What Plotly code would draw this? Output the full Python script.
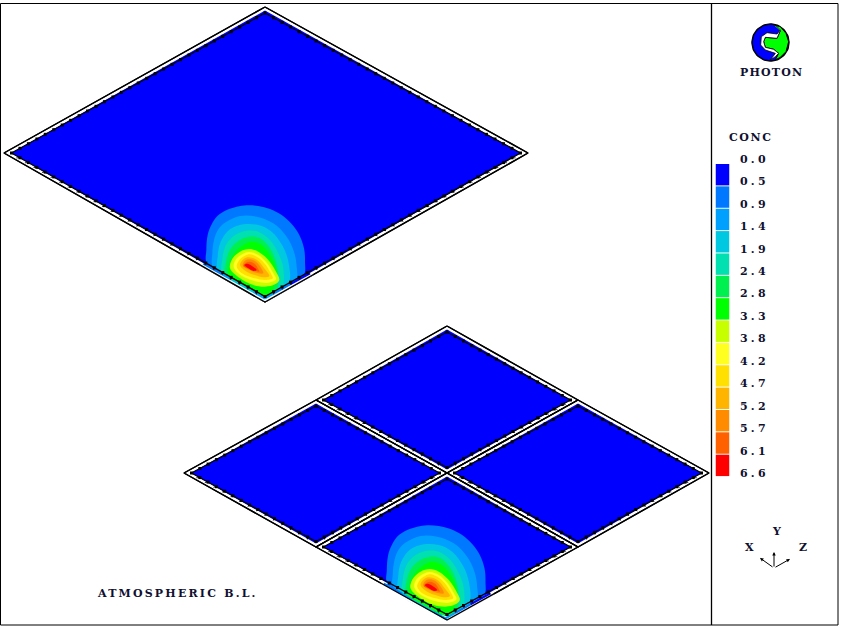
import numpy as np
import plotly.graph_objects as go

# legend
legend_values = ["0.0","0.5","0.9","1.4","1.9","2.4","2.8","3.3","3.8","4.2","4.7","5.2","5.7","6.1","6.6"]
band_colors = ["#0000ff","#0078ff","#00a0ff","#00c8e0","#00e0b0","#00f050","#00ff00","#c8ff00",
               "#ffff20","#ffe000","#ffb400","#ff8c00","#ff6000","#ff0000"]

# diamonds (top, left, right, bottom vertices) on the picture plane
panel_single = [((265,7),(4,153),(528,153),(265,302))]
panels_quarter = [
    ((447,326),(316,400),(578,400),(447,473)),
    ((316,400),(184,473),(447,473),(316,547)),
    ((578,400),(447,473),(709,473),(578,547)),
    ((447,473),(316,547),(578,547),(447,620)),
]

# concentration contour outlines, outermost first (plume-local coordinates, 3 units = 1 px)
plume_levels = [
 ("#0078ff",[(52,223),(49,180),(53,135),(64,105),(82,78),(110,60),(140,50),(170,46),(205,48),(240,57),(275,75),(305,102),(328,135),(342,175),(345,215),(340,258),(225,316)]),
 ("#00a0ff",[(70,234),(67,190),(72,150),(85,118),(108,96),(150,78),(200,80),(250,100),(290,140),(312,185),(320,230),(318,270),(225,316)]),
 ("#00c8e0",[(85,243),(83,200),(92,155),(120,118),(160,103),(205,105),(245,125),(278,168),(296,220),(295,282),(225,316)]),
 ("#00e0b0",[(98,250),(97,208),(108,165),(135,135),(170,122),(205,125),(240,150),(265,190),(280,235),(275,295),(225,316)]),
 ("#00f050",[(108,257),(108,215),(123,175),(150,150),(180,140),(210,145),(240,175),(258,215),(265,260),(258,305),(225,316)]),
 ("#00ff00",[(118,262),(118,225),(133,190),(160,165),(185,155),(215,165),(240,195),(258,235),(258,270),(240,312),(225,316)]),
 ("#c8ff00",[(120,235),(128,205),(150,185),(178,177),(205,185),(235,210),(258,245),(268,270),(255,283),(225,290),(190,285),(150,265)]),
 ("#ffff20",[(131,230),(138,208),(158,192),(178,186),(205,195),(230,218),(250,250),(258,268),(235,278),(205,276),(170,265),(145,250)]),
 ("#ffe000",[(140,228),(150,208),(165,197),(180,193),(205,203),(225,222),(245,255),(248,265),(225,270),(195,265),(165,255),(148,243)]),
 ("#ffb400",[(150,225),(158,210),(172,202),(188,204),(205,213),(225,238),(238,258),(220,262),(195,255),(170,245)]),
 ("#ff8c00",[(158,225),(165,212),(178,208),(195,213),(212,232),(220,250),(205,250),(185,243),(168,235)]),
 ("#ff6000",[(160,228),(168,218),(180,215),(195,222),(205,238),(208,245),(190,240),(172,235)]),
 ("#ff0000",[(163,225),(172,221),(185,227),(200,240),(190,243),(175,235)]),
]
# colours in the thin strip below the plume, along the two lower edges
strip_left = [(40,95,"#0078ff"),(95,125,"#00a0ff"),(125,190,"#00c8e0"),(190,225,"#00a0ff")]
strip_right = [(225,255,"#00a0ff"),(255,300,"#0078ff"),(300,360,"#0000ff")]
plume_origins = [(190,190),(370.5,510)]

fig = go.Figure()

def path(xs, ys, **kw):
    fig.add_trace(go.Scatter(x=xs, y=ys, mode=kw.pop("mode","lines"), hoverinfo="skip", showlegend=False, **kw))

def closed(T,L,R,B):
    return [T[0],R[0],B[0],L[0],T[0]],[T[1],R[1],B[1],L[1],T[1]]

def inset(p, t, s, b):
    T,L,R,B = p
    return (T[0],T[1]+t),(L[0]+s,L[1]),(R[0]-s,R[1]),(B[0],B[1]-b)

def base(p):
    x,y = closed(*p)
    path(x,y,fill="toself",fillcolor="white",line=dict(color="black",width=1.4))
    x,y = closed(*inset(p,3.5,7,3.5))
    path(x,y,fill="toself",fillcolor="#0000ff",line=dict(width=0),mode="lines")

def frame(p):
    x,y = closed(*p)
    path(x,y,line=dict(color="black",width=1.4))
    T,L,R,B = inset(p,6,7.5,5.5)
    x,y = closed(T,L,R,B)
    path(x,y,line=dict(color="black",width=1.4))
    # node dots on the inner line
    size = abs(R[0]-L[0])
    n = int(round(size/17))
    dx,dy=[],[]
    for a,b in ((T,R),(R,B),(B,L),(L,T)):
        for f in np.linspace(0,1,n,endpoint=False):
            dx.append(a[0]+(b[0]-a[0])*f); dy.append(a[1]+(b[1]-a[1])*f)
    path(dx,dy,mode="markers",marker=dict(color="black",size=3,symbol="square"))
    # short cross ticks in the lower band
    oT,oL,oR,oB = p
    tx,ty=[],[]
    for a,b,c,d in ((L,B,oL,oB),(B,R,oB,oR)):
        for f in np.linspace(0,1,n,endpoint=False)[1:]:
            x0=a[0]+(b[0]-a[0])*f; y0=a[1]+(b[1]-a[1])*f
            x1=c[0]+(d[0]-c[0])*f; y1=c[1]+(d[1]-c[1])*f
            tx+=[x0,(x0+x1)/2,None]; ty+=[y0,(y0+y1)/2,None]
    path(tx,ty,line=dict(color="black",width=0.8))

def plume(o):
    ox,oy=o
    for col,pts in plume_levels:
        xs=[ox+q[0]/3 for q in pts]; ys=[oy+q[1]/3 for q in pts]
        xs.append(xs[0]); ys.append(ys[0])
        path(xs,ys,fill="toself",fillcolor=col,line=dict(width=0,shape="spline",smoothing=1.0))
    edge_l=lambda z:(194+z*.5647)/3
    edge_r=lambda z:(321-(z-225)*.56)/3
    # white band cover, then the coloured strip
    for edge,z0,z1 in ((edge_l,30,225),(edge_r,225,370)):
        path([ox+z0/3,ox+z1/3],[oy+edge(z0)+3.6,oy+edge(z1)+3.6],line=dict(color="white",width=3))
    for z0,z1,col in strip_left:
        path([ox+z0/3,ox+z1/3],[oy+edge_l(z0)+1.4,oy+edge_l(z1)+1.4],line=dict(color=col,width=2.2))
    for z0,z1,col in strip_right:
        path([ox+z0/3,ox+z1/3],[oy+edge_r(z0)+1.4,oy+edge_r(z1)+1.4],line=dict(color=col,width=2.2))

for p in panel_single+panels_quarter:
    base(p)
for o in plume_origins:
    plume(o)
for p in panel_single+panels_quarter:
    frame(p)

# legend swatches
fig.add_trace(go.Bar(x=[722.5]*14, y=[21.4]*14, base=[164+22.36*i for i in range(14)], width=13.5,
                     marker=dict(color=band_colors,line=dict(width=0)), hoverinfo="skip", showlegend=False))

# logo
tt=np.linspace(0,2*np.pi,80)
path(770.5+18.5*np.cos(tt),42.5+18.5*np.sin(tt),fill="toself",fillcolor="#0000ff",line=dict(color="black",width=1.5))
logo_green=[(185,45),(205,50),(222,70),(230,95),(222,125),(205,142),(190,150),(200,130),(185,118),(160,112),(155,95),(160,82),(195,85),(205,62)]
logo_white=[(190,45),(205,60),(195,72),(165,68),(148,80),(146,105),(160,120),(190,130),(175,150),(190,140),(200,130),(185,118),(160,112),(155,95),(160,82),(195,85),(205,62)]
path([712+q[0]/3 for q in logo_green],[10+q[1]/3 for q in logo_green],fill="toself",fillcolor="#00ff00",line=dict(color="black",width=1))
path([712+q[0]/3 for q in logo_white],[10+q[1]/3 for q in logo_white],fill="toself",fillcolor="white",line=dict(color="black",width=0.8))

# texts
lx=[740]*15; ly=[160+22.45*i for i in range(15)]
tx=lx+[729,740,98,773,745,799]
ty=ly+[138,73,594,532,548,548]
tt_=legend_values+["CONC","PHOTON","ATMOSPHERIC B.L.","Y","X","Z"]
fig.add_trace(go.Scatter(x=tx,y=ty,text=tt_,mode="text",textposition="middle right",hoverinfo="skip",showlegend=False,
                         textfont=dict(family="DejaVu Serif",size=11,color="#101030",weight="bold")))

arrow_tips=[(774,552),(760,558),(790,559)]
ann=[dict(x=a,y=b,ax=774,ay=568,xref="x",yref="y",axref="x",ayref="y",text="",showarrow=True,
          arrowhead=2,arrowsize=0.7,arrowwidth=1,arrowcolor="black") for a,b in arrow_tips]

shapes=[dict(type="rect",x0=0.5,x1=838,y0=3.5,y1=625,line=dict(color="black",width=1)),
        dict(type="line",x0=711.5,x1=711.5,y0=3.5,y1=625,line=dict(color="black",width=1.3))]

fig.update_layout(width=842,height=629,margin=dict(l=0,r=0,t=0,b=0),paper_bgcolor="white",plot_bgcolor="white",
    barmode="overlay",showlegend=False,shapes=shapes,annotations=ann,
    xaxis=dict(range=[0,842],visible=False,fixedrange=True),
    yaxis=dict(range=[629,0],visible=False,fixedrange=True))

post="""
document.body.style.margin='0';
document.querySelectorAll('.textpoint text').forEach(function(t){
  var s=t.textContent, n=s.length;
  t.style.letterSpacing=(n==3?'3.2px':(n==4?'1.6px':(n==6?'1.2px':(n>6?'2.2px':'0'))));
});
"""
fig.write_html("out.html",post_script=post,config={"displayModeBar":False})
